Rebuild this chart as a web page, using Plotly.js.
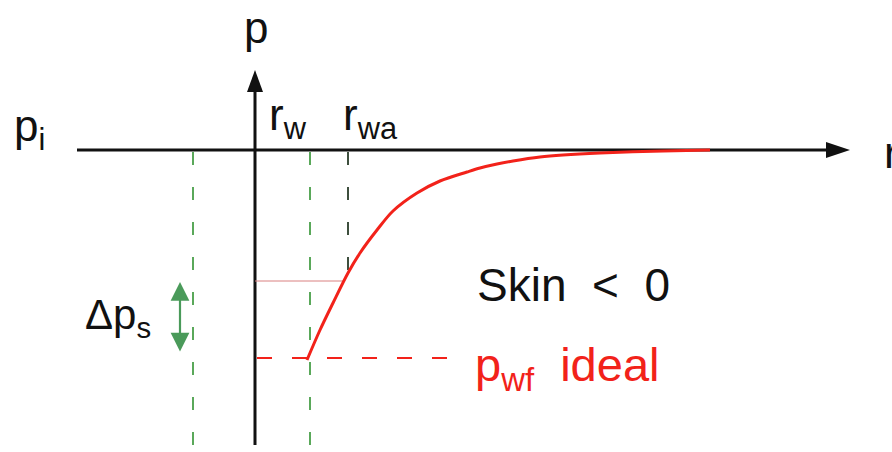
<!DOCTYPE html>
<html>
<head>
<meta charset="utf-8">
<script src="https://cdn.plot.ly/plotly-3.0.1.min.js"></script>
<style>html,body{margin:0;padding:0;background:#fff;}#chart{width:892px;height:452px;}</style>
</head>
<body>
<div id="chart"></div>
<script>
// Pressure profile near the wellbore (schematic). r measured from the well axis, p relative to p_i (p_i = 0).
const curveR = [52, 65, 78, 93, 105, 122, 138, 162, 185, 212, 225, 242, 258, 285, 308, 345, 408, 455];
const curveP = [-210, -180, -153, -123, -103, -80, -61, -43, -31, -22, -18, -14, -11, -7, -5, -3, -1, 0];

// Characteristic radii / pressures of the sketch
const rW = 55;          // r_w
const rWa = 93;         // r_wa (apparent radius)
const rMirror = -62;    // mirror of r_w on the left side
const pWfIdeal = -208;  // p_wf ideal
const pWfActual = -131; // pressure at r_wa
const pInitial = 0;     // p_i

// Axis extents (sketch)
const rAxisStart = -178, rAxisTip = 595;
const pAxisStart = -295, pAxisTip = 80;
const rLow = -255, rHigh = 637, pLow = -302, pHigh = 150;

const FONT = 'Liberation Sans, Arial, sans-serif';
const green = '#5aa85a';
const darkDash = '#3e4f3e';
const red = '#f2221a';

const traces = [
  { x: curveR, y: curveP, type: 'scatter', mode: 'lines',
    line: { color: red, width: 3, shape: 'spline', smoothing: 0.9 },
    hoverinfo: 'skip', showlegend: false }
];

function vline(r, p0, p1, color, width, dash) {
  return { type: 'line', xref: 'x', yref: 'y', x0: r, x1: r, y0: p0, y1: p1,
           line: { color: color, width: width, dash: dash }, layer: 'below' };
}
function hline(p, r0, r1, color, width, dash) {
  return { type: 'line', xref: 'x', yref: 'y', x0: r0, x1: r1, y0: p, y1: p,
           line: { color: color, width: width, dash: dash }, layer: 'below' };
}

const headLen = 24, headHalf = 8;
const shapes = [
  // axes
  hline(pInitial, rAxisStart, rAxisTip - headLen + 2, '#111', 3, 'solid'),
  vline(0, pAxisStart, pAxisTip - headLen + 2, '#111', 3, 'solid'),
  { type: 'path', xref: 'x', yref: 'y', fillcolor: '#111', line: { width: 0 },
    path: `M${rAxisTip - headLen},${pInitial + headHalf} L${rAxisTip},${pInitial} L${rAxisTip - headLen},${pInitial - headHalf} Z` },
  { type: 'path', xref: 'x', yref: 'y', fillcolor: '#111', line: { width: 0 },
    path: `M${-headHalf},${pAxisTip - headLen + 2} L0,${pAxisTip} L${headHalf},${pAxisTip - headLen + 2} Z` },
  // dashed guide lines
  vline(rMirror, pInitial - 2, pAxisStart, green, 2, '13px,22px'),
  vline(rW, pInitial - 2, pAxisStart, green, 2, '13px,22px'),
  vline(rWa, pInitial - 2, pWfActual + 5, darkDash, 2, '13px,22px'),
  hline(pWfActual, 0, rWa - 5, '#d98080', 1, 'solid'),
  hline(pWfIdeal, 2, 192, red, 2, '15px,20px')
];

const annotations = [
  { x: 1, y: 123, xref: 'x', yref: 'y', text: 'p', showarrow: false, xanchor: 'center', yanchor: 'middle',
    font: { family: FONT, size: 44, color: '#111' } },
  { x: -243, y: 21, xref: 'x', yref: 'y', text: 'p<sub>i</sub>', showarrow: false, xanchor: 'left', yanchor: 'middle',
    font: { family: FONT, size: 44, color: '#111' } },
  { x: 12, y: 32, xref: 'x', yref: 'y', text: 'r<sub>w</sub>', showarrow: false, xanchor: 'left', yanchor: 'middle',
    font: { family: FONT, size: 44, color: '#111' } },
  { x: 86, y: 32, xref: 'x', yref: 'y', text: 'r<sub>wa</sub>', showarrow: false, xanchor: 'left', yanchor: 'middle',
    font: { family: FONT, size: 44, color: '#111' } },
  { x: 627, y: -2, xref: 'x', yref: 'y', text: 'r', showarrow: false, xanchor: 'left', yanchor: 'middle',
    font: { family: FONT, size: 44, color: '#111' } },
  { x: -172, y: -167, xref: 'x', yref: 'y', text: 'Δp<sub>s</sub>', showarrow: false, xanchor: 'left', yanchor: 'middle',
    font: { family: FONT, size: 42, color: '#111' } },
  { x: 220, y: -135, xref: 'x', yref: 'y', text: 'Skin\u00a0\u00a0<\u00a0\u00a00', showarrow: false, xanchor: 'left', yanchor: 'middle',
    font: { family: FONT, size: 46, color: '#111' } },
  { x: 218, y: -218, xref: 'x', yref: 'y', text: 'p<sub>wf</sub>\u00a0\u00a0ideal', showarrow: false, xanchor: 'left', yanchor: 'middle',
    font: { family: FONT, size: 47, color: red } },
  // double arrow for Δp_s
  { x: -75, y: pWfActual - 1, ax: -75, ay: pWfIdeal + 5, xref: 'x', yref: 'y', axref: 'x', ayref: 'y',
    text: '', showarrow: true, arrowside: 'end+start', arrowhead: 2, startarrowhead: 2,
    arrowsize: 1.7, startarrowsize: 1.7, arrowwidth: 2.2, arrowcolor: '#4a9a5a' }
];

const layout = {
  width: 892, height: 452,
  margin: { l: 0, r: 0, t: 0, b: 0, pad: 0 },
  paper_bgcolor: '#fff', plot_bgcolor: '#fff',
  xaxis: { range: [rLow, rHigh], visible: false, fixedrange: true },
  yaxis: { range: [pLow, pHigh], visible: false, fixedrange: true },
  shapes: shapes,
  annotations: annotations,
  showlegend: false
};

Plotly.newPlot('chart', traces, layout, { staticPlot: true, displayModeBar: false });
</script>
</body>
</html>
